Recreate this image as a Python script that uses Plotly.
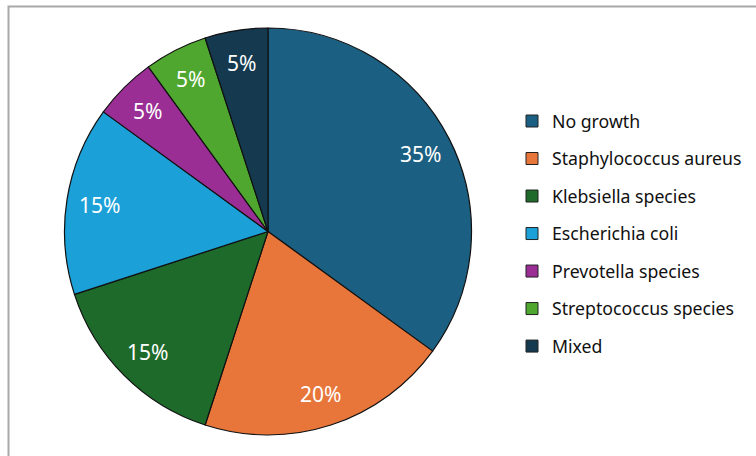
import math
import plotly.graph_objects as go

labels = ["No growth", "Staphylococcus aureus", "Klebsiella species", "Escherichia coli",
          "Prevotella species", "Streptococcus species", "Mixed"]
values = [35, 20, 15, 15, 5, 5, 5]
colors = ["#1b5f82", "#e8763a", "#1d6a2b", "#1ba0d8", "#9a2e95", "#4fa72f", "#153a4f"]

W, H = 756, 456
cx, cy, R = 268, 231.5, 203.5  # pie centre / radius in px
dom_x = [(cx - R) / W, (cx + R) / W]
dom_y = [1 - (cy + R) / H, 1 - (cy - R) / H]

fig = go.Figure()
fig.add_trace(go.Pie(
    labels=labels, values=values, sort=False, direction="clockwise", rotation=0,
    marker=dict(colors=colors, line=dict(color="#111111", width=1.2)),
    textinfo="none",
    domain=dict(x=dom_x, y=dom_y),
    showlegend=False, hoverinfo="label+percent",
))
for i, (lab, col) in enumerate(zip(labels, colors)):
    fig.add_trace(go.Scatter(
        x=[None], y=[None], mode="markers", name=lab, legendgroup=f"g{i}",
        marker=dict(symbol="square", size=12, color=col, line=dict(color="#222222", width=1)),
    ))

# percentage labels placed at the middle angle of each slice (best-fit style)
total = sum(values)
annotations = []
cum = 0
for v in values:
    mid = (cum + v / 2) / total * 2 * math.pi
    cum += v
    rr = 0.84 * R
    px = cx + rr * math.sin(mid)
    py = cy - rr * math.cos(mid)
    annotations.append(dict(
        x=px / W, y=1 - py / H, xref="paper", yref="paper", showarrow=False,
        xanchor="center", yanchor="middle",
        text=f"{round(v / total * 100)}%",
        font=dict(color="white", size=21, family="Noto Sans"),
    ))

fig.update_layout(
    width=W, height=H, margin=dict(l=0, r=0, t=0, b=0, autoexpand=False),
    paper_bgcolor="white", plot_bgcolor="white",
    xaxis=dict(visible=False), yaxis=dict(visible=False),
    annotations=annotations,
    legend=dict(x=512 / W, y=1 - 103 / H, xanchor="left", yanchor="top",
                traceorder="grouped", tracegroupgap=11.5,
                font=dict(size=17.7, color="#111111", family="Noto Sans"),
                bgcolor="rgba(0,0,0,0)"),
    shapes=[dict(type="rect", xref="paper", yref="paper",
                 x0=8.5 / W, y0=-0.1, x1=1.1, y1=1 - 6.5 / H,
                 line=dict(color="#a8a8a8", width=2))],
)
fig.write_html("out.html")
